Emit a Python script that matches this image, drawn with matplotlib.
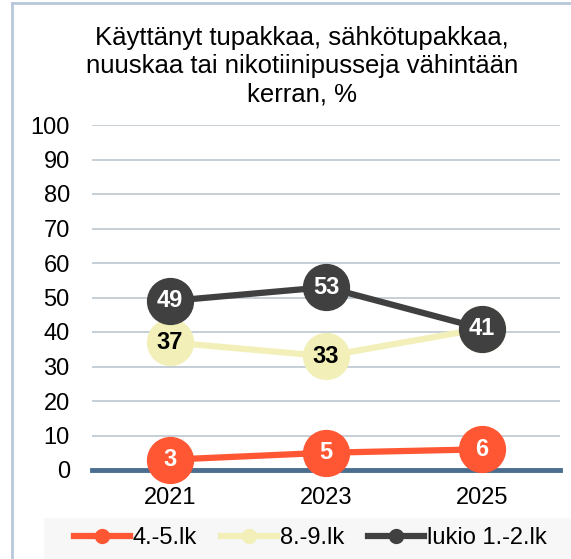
import matplotlib
matplotlib.use("Agg")
import matplotlib.pyplot as plt
from matplotlib.lines import Line2D

plt.rcParams['font.family'] = ['Liberation Sans', 'DejaVu Sans']

years = ["2021", "2023", "2025"]
series_names = ["4.-5.lk", "8.-9.lk", "lukio 1.-2.lk"]
v_45 = [3, 5, 6]
v_89 = [37, 33, 41]
v_lukio = [49, 53, 41]
title = "Käyttänyt tupakkaa, sähkötupakkaa,\nnuuskaa tai nikotiinipusseja vähintään\nkerran, %"
yticks = list(range(0, 101, 10))

colors = ["#FF5733", "#F2F0B8", "#404040"]
label_colors = ["white", "black", "white"]
values = [v_45, v_89, v_lukio]

W, H = 571, 559
fig = plt.figure(figsize=(W / 100, H / 100), dpi=100)
ax = fig.add_axes([92 / W, 1 - 470 / H, (560 - 92) / W, (470 - 125) / H])

x = list(range(len(years)))
for i, (name, vals, c, lc) in enumerate(zip(series_names, values, colors, label_colors)):
    z = 3 + i * 2
    ax.plot(x, vals, color=c, lw=4.5, marker='o', markersize=33, zorder=z,
            solid_capstyle='butt', clip_on=False)
    for xi, v in zip(x, vals):
        ax.text(xi, v, str(v), ha='center', va='center', color=lc, fontsize=17,
                fontweight='bold', zorder=z + 0.5)

ax.set_xlim(-0.5, 2.5)
ax.set_ylim(0, 100)
ax.set_yticks(yticks)
ax.set_xticks(x)
ax.set_xticklabels(years)
ax.tick_params(axis='both', length=0, labelsize=17, colors='black')
ax.tick_params(axis='y', pad=16)
ax.tick_params(axis='x', pad=12)
ax.grid(axis='y', color='#BCC6D0', lw=1.2)
ax.set_axisbelow(True)
for s in ['top', 'right', 'left']:
    ax.spines[s].set_visible(False)
ax.spines['bottom'].set_color('#4A6E90')
ax.spines['bottom'].set_linewidth(3.5)
ax.spines['bottom'].set_zorder(2)

fig.text(302 / W, 1 - 26 / H, title, ha='center', va='top', fontsize=18.5,
         linespacing=1.22)

# chart border (left and top)
fig.add_artist(Line2D([12 / W, 12 / W], [0, 1 - 3 / H], transform=fig.transFigure,
                      color='#B8C8DC', lw=2))
fig.add_artist(Line2D([12 / W, 1], [1 - 3 / H, 1 - 3 / H], transform=fig.transFigure,
                      color='#B8C8DC', lw=2))

# legend background
fig.patches.append(plt.Rectangle((44 / W, 0), 1 - 44 / W, 41 / H, transform=fig.transFigure,
                                 facecolor='#F7F7F7', edgecolor='none', zorder=0))
handles = [Line2D([], [], color=c, lw=4.5, marker='o', markersize=10) for c in colors]
fig.legend(handles, series_names, loc='center', bbox_to_anchor=(310 / W, 1 - 538 / H),
           ncol=3, frameon=False, fontsize=17, handlelength=2.4, handletextpad=0.1,
           columnspacing=1.0, borderaxespad=0)

fig.savefig("out.png", dpi=100)
